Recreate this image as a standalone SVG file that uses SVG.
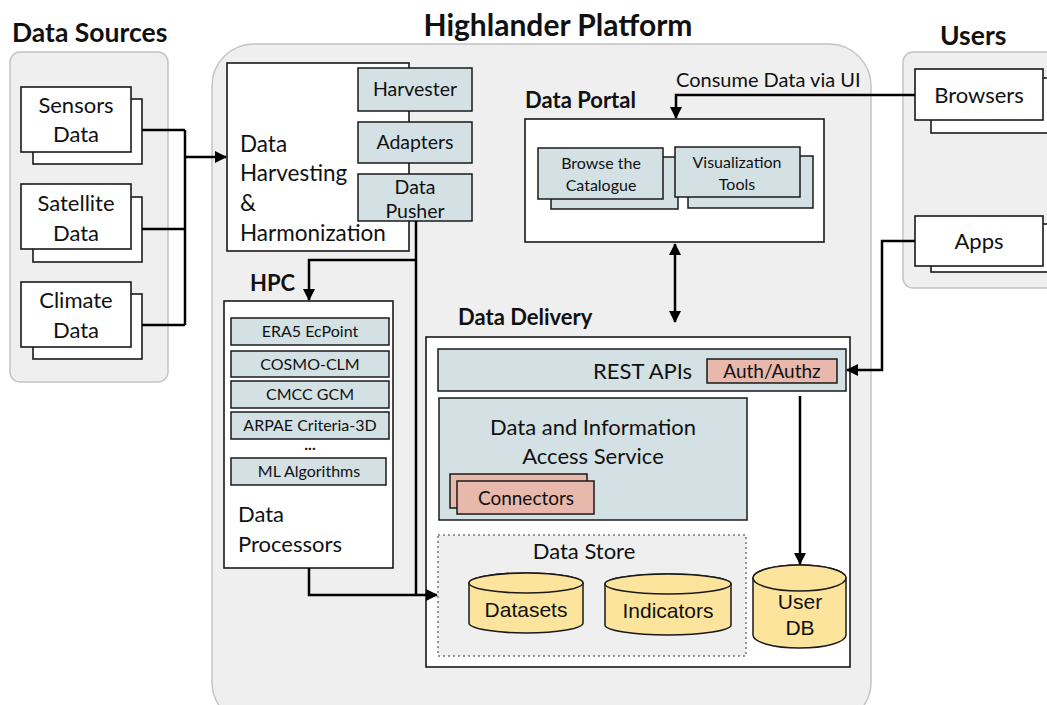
<svg xmlns="http://www.w3.org/2000/svg" width="1047" height="705" viewBox="0 0 1047 705">
  <defs>
    <marker id="arrow" viewBox="0 0 12 12" refX="11" refY="6" markerWidth="12" markerHeight="12" markerUnits="userSpaceOnUse" orient="auto-start-reverse">
      <path d="M0,0 L12,6 L0,12 Z" fill="#000"/>
    </marker>
    <style>
      .grp { fill: #efefef; stroke: #c4c4c4; stroke-width: 1.5; }
      .box { fill: #fff; stroke: #1a1a1a; stroke-width: 1.6; }
      .blue { fill: #d3e1e4; stroke: #1a1a1a; stroke-width: 1.5; }
      .pink { fill: #e8b8ad; stroke: #1a1a1a; stroke-width: 1.5; }
      .cyl { fill: #fce49c; stroke: #1a1a1a; stroke-width: 1.5; }
      .store { fill: #efefef; stroke: #777; stroke-width: 1.5; stroke-dasharray: 2 3; }
      .wire { fill: none; stroke: #000; stroke-width: 2.5; }
      text { font-family: Lato, "Open Sans", sans-serif; fill: #111; }
      .h1 { font-size: 30px; font-weight: bold; }
      .h2 { font-size: 26.5px; font-weight: bold; }
      .h3 { font-size: 22px; font-weight: bold; }
      .t { font-size: 22px; }
      .m { font-size: 19.5px; }
      .s { font-size: 16px; }
      .c { text-anchor: middle; }
      .db { font-family: "Liberation Sans", Arial, sans-serif; font-size: 21px; text-anchor: middle; }
    </style>
  </defs>

  <!-- titles -->
  <text class="h1 c" x="558" y="36">Highlander Platform</text>
  <text class="h2" x="12" y="42">Data Sources</text>
  <text class="h2" x="940" y="45">Users</text>

  <!-- outer groups -->
  <rect id="data-sources" class="grp" x="10" y="52" width="158" height="330" rx="10"/>
  <rect id="platform" class="grp" x="212" y="44" width="659" height="680" rx="42"/>
  <rect id="users" class="grp" x="903" y="52" width="170" height="236" rx="10"/>

  <!-- data sources -->
  <g id="sensors">
    <rect class="box" x="33" y="99" width="109" height="65"/>
    <rect class="box" x="21" y="87" width="110" height="65"/>
    <text class="t c" x="76" y="113">Sensors</text>
    <text class="t c" x="76" y="142">Data</text>
  </g>
  <g id="satellite">
    <rect class="box" x="33" y="197" width="109" height="65"/>
    <rect class="box" x="21" y="184" width="110" height="65"/>
    <text class="t c" x="76" y="211">Satellite</text>
    <text class="t c" x="76" y="241">Data</text>
  </g>
  <g id="climate">
    <rect class="box" x="33" y="294" width="109" height="65"/>
    <rect class="box" x="21" y="282" width="110" height="65"/>
    <text class="t c" x="76" y="308">Climate</text>
    <text class="t c" x="76" y="338">Data</text>
  </g>

  <!-- users -->
  <g id="browsers">
    <rect class="box" x="931" y="78" width="130" height="55"/>
    <rect class="box" x="915" y="69" width="128" height="51"/>
    <text class="t c" x="979" y="103">Browsers</text>
  </g>
  <g id="apps">
    <rect class="box" x="931" y="224" width="130" height="48"/>
    <rect class="box" x="915" y="216" width="128" height="50"/>
    <text class="t c" x="979" y="249">Apps</text>
  </g>

  <!-- harvesting -->
  <g id="harvesting">
    <rect class="box" x="227" y="63" width="182" height="188"/>
    <text class="t" x="240" y="152" style="font-size:22.5px">Data</text>
    <text class="t" x="240" y="181" style="font-size:22.5px">Harvesting</text>
    <text class="t" x="240" y="211" style="font-size:22.5px">&amp;</text>
    <text class="t" x="240" y="241" style="font-size:22.5px">Harmonization</text>
    <rect class="blue" x="358" y="68" width="114" height="43"/>
    <text class="m c" x="415" y="96">Harvester</text>
    <rect class="blue" x="358" y="122" width="114" height="41"/>
    <text class="m c" x="415" y="149">Adapters</text>
    <rect class="blue" x="358" y="174" width="114" height="47"/>
    <text class="m c" x="415" y="194">Data</text>
    <text class="m c" x="415" y="218">Pusher</text>
  </g>

  <!-- HPC -->
  <g id="hpc">
    <text class="h3" x="250" y="291">HPC</text>
    <rect class="box" x="224" y="301" width="169" height="267"/>
    <rect class="blue" x="231" y="318" width="158" height="27"/>
    <text class="s c" x="310" y="337">ERA5 EcPoint</text>
    <rect class="blue" x="231" y="351" width="158" height="26"/>
    <text class="s c" x="310" y="370">COSMO-CLM</text>
    <rect class="blue" x="231" y="381" width="158" height="27"/>
    <text class="s c" x="310" y="400">CMCC GCM</text>
    <rect class="blue" x="231" y="412" width="158" height="27"/>
    <text class="s c" x="310" y="431">ARPAE Criteria-3D</text>
    <text class="s c" x="310" y="450" style="font-weight:bold">...</text>
    <rect class="blue" x="231" y="458" width="155" height="27"/>
    <text class="s c" x="309" y="477">ML Algorithms</text>
    <text class="t" x="238" y="522">Data</text>
    <text class="t" x="238" y="552">Processors</text>
  </g>

  <!-- data portal -->
  <g id="data-portal">
    <text class="h3" x="525" y="108">Data Portal</text>
    <rect class="box" x="525" y="119" width="299" height="123"/>
    <rect class="blue" x="551" y="157" width="127" height="52"/>
    <rect class="blue" x="538" y="148" width="125" height="51"/>
    <text class="s c" x="601" y="169">Browse the</text>
    <text class="s c" x="601" y="191">Catalogue</text>
    <rect class="blue" x="688" y="156" width="125" height="52"/>
    <rect class="blue" x="675" y="147" width="125" height="50"/>
    <text class="s c" x="737" y="168">Visualization</text>
    <text class="s c" x="737" y="190">Tools</text>
  </g>

  <!-- data delivery -->
  <g id="data-delivery">
    <text class="h3" x="458" y="325">Data Delivery</text>
    <rect class="box" x="426" y="337" width="424" height="330"/>
    <rect class="blue" x="438" y="349" width="408" height="42"/>
    <text class="t" x="593" y="379">REST APIs</text>
    <rect class="pink" x="707" y="359" width="130" height="24"/>
    <text class="s c" x="772" y="378" style="font-size:19px">Auth/Authz</text>
    <rect class="blue" x="439" y="398" width="308" height="122"/>
    <text class="t c" x="593" y="435">Data and Information</text>
    <text class="t c" x="593" y="464">Access Service</text>
    <rect class="pink" x="450" y="474" width="137" height="34"/>
    <rect class="pink" x="457" y="481" width="137" height="33"/>
    <text class="s c" x="526" y="505" style="font-size:19px">Connectors</text>
  </g>

  <!-- data store -->
  <g id="data-store">
    <rect class="store" x="438" y="535" width="308" height="121"/>
    <text class="c" x="584" y="559" style="font-size:22px">Data Store</text>
  </g>
  <g id="datasets">
    <path class="cyl" d="M469,583 L469,623 A57,10 0 0 0 583,623 L583,583 A57,10 0 0 0 469,583 Z"/>
    <path class="cyl" d="M469,583 A57,10 0 0 0 583,583 A57,10 0 0 0 469,583 Z"/>
    <text class="db" x="526" y="617">Datasets</text>
  </g>
  <g id="indicators">
    <path class="cyl" d="M605,584 L605,625 A63,10 0 0 0 731,625 L731,584 A63,10 0 0 0 605,584 Z"/>
    <path class="cyl" d="M605,584 A63,10 0 0 0 731,584 A63,10 0 0 0 605,584 Z"/>
    <text class="db" x="668" y="618">Indicators</text>
  </g>
  <g id="user-db">
    <path class="cyl" d="M753,578 L753,635 A46.5,13 0 0 0 846,635 L846,578 A46.5,13 0 0 0 753,578 Z"/>
    <path class="cyl" d="M753,578 A46.5,13 0 0 0 846,578 A46.5,13 0 0 0 753,578 Z"/>
    <text class="db" x="800" y="609">User</text>
    <text class="db" x="800" y="635">DB</text>
  </g>

  <text class="t" x="676" y="87" style="font-size:20px">Consume Data via UI</text>

  <!-- connectors -->
  <g id="connectors">
    <path class="wire" d="M142,130 H185 M142,229 H185 M142,325 H185 M185,130 V325"/>
    <path class="wire" d="M185,157 H226" marker-end="url(#arrow)"/>
    <path class="wire" d="M416,221 V595"/>
    <path class="wire" d="M416,260 H309 V300" marker-end="url(#arrow)"/>
    <path class="wire" d="M309,568 V595 H437" marker-end="url(#arrow)"/>
    <path class="wire" d="M915,95 H676 V118" marker-end="url(#arrow)"/>
    <path class="wire" d="M675,244 V322" marker-start="url(#arrow)" marker-end="url(#arrow)"/>
    <path class="wire" d="M915,241 H882 V370 H847" marker-end="url(#arrow)"/>
    <path class="wire" d="M800,396 V564" marker-end="url(#arrow)"/>
  </g>
</svg>
